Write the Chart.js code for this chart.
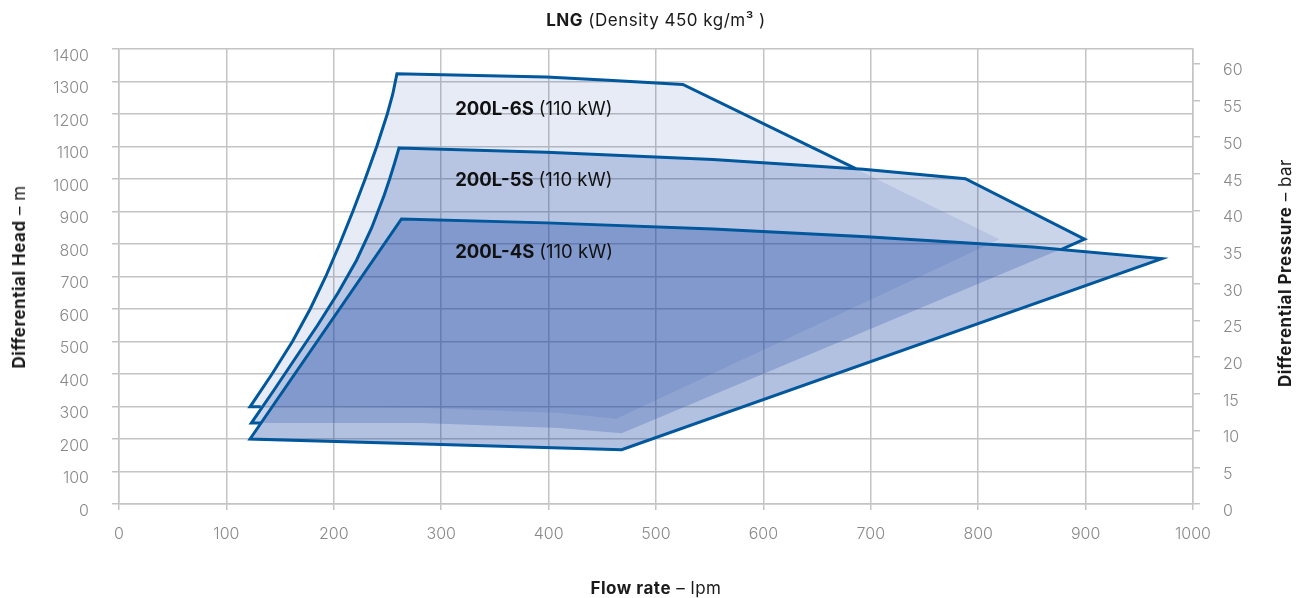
<!DOCTYPE html>
<html>
<head>
<meta charset="utf-8">
<script src="https://cdn.jsdelivr.net/npm/chart.js@4.4.1/dist/chart.umd.min.js"></script>
<style>
  html, body { margin: 0; padding: 0; background: #fff; }
  #wrap { position: relative; width: 1301px; height: 598px; font-family: Inter, "Noto Sans", sans-serif; color: #1a1a1a; }
  canvas { position: absolute; left: 0; top: 0; }
  .t { position: absolute; font-size: 17px; letter-spacing: 0.5px; white-space: nowrap; }
  .t b { font-weight: 700; }
  #title { left: 656px; top: 20px; transform: translate(-50%, -50%); }
  #xTitle { left: 656px; top: 588px; transform: translate(-50%, -50%); }
  #yTitle { left: 19px; top: 277px; transform: translate(-50%, -50%) rotate(-90deg); }
  #y2Title { left: 1285px; top: 273px; transform: translate(-50%, -50%) rotate(-90deg); }
</style>
</head>
<body>
<div id="wrap">
  <canvas id="chart" width="1301" height="598"></canvas>
  <div class="t" id="title"><b>LNG</b> (Density 450 kg/m³ )</div>
  <div class="t" id="xTitle"><b>Flow rate</b> – lpm</div>
  <div class="t" id="yTitle"><b>Differential Head</b> – m</div>
  <div class="t" id="y2Title"><b>Differential Pressure</b> – bar</div>
</div>
<script>
// pump envelopes: flow rate (lpm) against differential head (m)
const flow6S = [122, 142.5, 161.5, 178, 192.5, 205.5, 217.7, 229.2, 240, 249.8, 254.8, 257.3, 258.8, 398, 460, 525, 820, 463, 410, 280];
const head6S = [299, 400, 500, 600, 700, 800, 900, 1000, 1100, 1200, 1260, 1300, 1324, 1314, 1303, 1291, 815, 262, 280, 296];
const flow5S = [123.2, 144.2, 164.5, 184.9, 204, 221.2, 235.3, 246.9, 252, 256.7, 260.7, 398, 553, 693, 788, 899, 468, 410, 280];
const head5S = [249, 350, 450, 550, 650, 750, 850, 950, 1000, 1050, 1095, 1082, 1060, 1030, 1001, 815, 218, 234, 249];
const flow4S = [122, 263, 398, 553, 696, 851, 971, 468];
const head4S = [200, 877, 865, 846, 822, 791, 755, 167];

// visible outline of each envelope
const edgeFlow6S = [132, 122, 142.5, 161.5, 178, 192.5, 205.5, 217.7, 229.2, 240, 249.8, 254.8, 257.3, 258.8, 398, 460, 525, 686];
const edgeHead6S = [299, 299, 400, 500, 600, 700, 800, 900, 1000, 1100, 1200, 1260, 1300, 1324, 1314, 1303, 1291, 1032];
const edgeFlow5S = [132, 123.2, 144.2, 164.5, 184.9, 204, 221.2, 235.3, 246.9, 252, 256.7, 260.7, 398, 553, 693, 788, 899, 877];
const edgeHead5S = [249, 249, 350, 450, 550, 650, 750, 850, 950, 1000, 1050, 1095, 1082, 1060, 1030, 1001, 815, 783];
const edgeFlow4S = [300, 122, 263, 398, 553, 696, 851, 971, 468, 300];
const edgeHead4S = [183, 200, 877, 865, 846, 822, 791, 755, 167, 183];

const modelNames = ['200L-6S', '200L-5S', '200L-4S'];
const powerLabels = ['(110 kW)', '(110 kW)', '(110 kW)'];
const labelFlow = [313, 313, 313];
const labelHead = [1213, 995, 773];

const pressureTicks = [0, 5, 10, 15, 20, 25, 30, 35, 40, 45, 50, 55, 60];
const pressureMax = 62.0;

function toPoints(xs, ys) {
    return xs.map((v, i) => ({ x: v, y: ys[i] }));
}

function envelope(xs, ys, alpha, order) {
    return {
        data: toPoints(xs, ys),
        showLine: true,
        fill: 'shape',
        backgroundColor: 'rgba(10, 55, 155, ' + alpha + ')',
        borderWidth: 0,
        pointRadius: 0,
        order: order
    };
}

function outline(xs, ys, order) {
    return {
        data: toPoints(xs, ys),
        showLine: true,
        fill: false,
        borderColor: '#00579c',
        borderWidth: 3,
        borderJoinStyle: 'miter',
        pointRadius: 0,
        order: order
    };
}

const modelLabels = {
    id: 'modelLabels',
    afterDatasetsDraw(chart) {
        const ctx = chart.ctx;
        const x = chart.scales.x, y = chart.scales.y;
        ctx.save();
        ctx.textBaseline = 'middle';
        ctx.fillStyle = '#111';
        modelNames.forEach((name, i) => {
            const px = x.getPixelForValue(labelFlow[i]);
            const py = y.getPixelForValue(labelHead[i]);
            ctx.font = '700 18.5px Inter, "Noto Sans", sans-serif';
            ctx.fillText(name, px, py);
            const w = ctx.measureText(name).width + 5;
            ctx.font = '400 18.5px Inter, "Noto Sans", sans-serif';
            ctx.fillText(powerLabels[i], px + w, py);
        });
        ctx.restore();
    }
};

const gridColor = '#c4c4c4';
const tickFont = { family: 'Inter, "Noto Sans", sans-serif', size: 16, weight: 300 };
const plain = v => String(v);

new Chart(document.getElementById('chart'), {
    type: 'scatter',
    data: {
        datasets: [
            envelope(flow6S, head6S, 0.1, 10),
            envelope(flow5S, head5S, 0.21, 9),
            envelope(flow4S, head4S, 0.31, 8),
            outline(edgeFlow6S, edgeHead6S, 3),
            outline(edgeFlow5S, edgeHead5S, 2),
            outline(edgeFlow4S, edgeHead4S, 1)
        ]
    },
    options: {
        responsive: false,
        animation: false,
        layout: { padding: { top: 49, left: 0, right: 0, bottom: 0 } },
        plugins: { legend: { display: false }, tooltip: { enabled: false } },
        scales: {
            x: {
                type: 'linear',
                min: 0,
                max: 1000,
                ticks: { stepSize: 100, color: '#8a8a8a', font: tickFont, padding: 15, maxRotation: 0, callback: plain },
                grid: { color: gridColor, lineWidth: 1.5, tickLength: 6 },
                border: { color: gridColor, width: 1.5 },
                afterFit(scale) { scale.height = 94; }
            },
            y: {
                position: 'left',
                min: 0,
                max: 1400,
                ticks: { stepSize: 100, color: '#8a8a8a', font: tickFont, padding: 23, labelOffset: 7, callback: plain },
                grid: { color: gridColor, lineWidth: 1.5, tickLength: 7 },
                border: { color: gridColor, width: 1.5 },
                afterFit(scale) { scale.width = 119; }
            },
            y2: {
                position: 'right',
                min: 0,
                max: pressureMax,
                afterBuildTicks(scale) { scale.ticks = pressureTicks.map(v => ({ value: v })); },
                ticks: { color: '#8a8a8a', font: tickFont, padding: 23, labelOffset: 7, callback: plain },
                grid: { drawOnChartArea: false, color: gridColor, lineWidth: 1.5, tickLength: 7 },
                border: { color: gridColor, width: 1.5 },
                afterFit(scale) { scale.width = 108; }
            }
        }
    },
    plugins: [modelLabels]
});
</script>
</body>
</html>
